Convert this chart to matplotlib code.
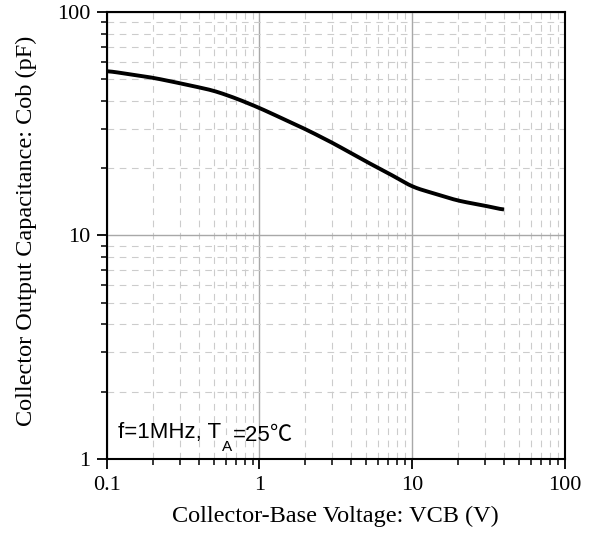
import matplotlib
matplotlib.use("Agg")
import matplotlib.pyplot as plt
import numpy as np
from matplotlib.ticker import LogLocator, NullFormatter, FixedLocator, FixedFormatter

# Cob vs VCB
vcb = [0.1, 0.2, 0.3, 0.5, 0.7, 1, 2, 3, 5, 7, 10, 20, 30, 40]
cob = [54.5, 50.8, 48.0, 44.5, 41.1, 37.2, 29.9, 26.0, 21.4, 19.0, 16.5, 14.3, 13.6, 13.0]

xticks = [0.1, 1, 10, 100]
xlabels = ["0.1", "1", "10", "100"]
yticks = [1, 10, 100]
ylabels = ["1", "10", "100"]

plt.rcParams['font.family'] = ['Liberation Serif', 'DejaVu Serif']

fig = plt.figure(figsize=(5.97, 5.42), dpi=100)
ax = fig.add_axes([0.179, 0.153, 0.767, 0.825])

# smooth the curve in log space
lx = np.log10(vcb)
ly = np.log10(cob)
xs = np.linspace(lx[0], lx[-1], 300)
ys = np.interp(xs, lx, ly)
k = np.ones(15) / 15
ys_s = np.convolve(np.pad(ys, 7, mode='edge'), k, mode='valid')
ax.plot(10**xs, 10**ys_s, color='black', lw=2.8, solid_capstyle='butt')

ax.set_xscale('log')
ax.set_yscale('log')
ax.set_xlim(0.1, 100)
ax.set_ylim(1, 100)

ax.xaxis.set_major_locator(FixedLocator(xticks))
ax.xaxis.set_major_formatter(FixedFormatter(xlabels))
ax.yaxis.set_major_locator(FixedLocator(yticks))
ax.yaxis.set_major_formatter(FixedFormatter(ylabels))
ax.xaxis.set_minor_locator(LogLocator(base=10, subs=np.arange(2, 10)))
ax.yaxis.set_minor_locator(LogLocator(base=10, subs=np.arange(2, 10)))
ax.xaxis.set_minor_formatter(NullFormatter())
ax.yaxis.set_minor_formatter(NullFormatter())

ax.grid(which='major', color='#a8a8a8', lw=1.0, ls='-')
ax.grid(which='minor', color='#cccccc', lw=0.8, ls=(0, (6, 5)))
ax.set_axisbelow(True)

for s in ax.spines.values():
    s.set_linewidth(1.5)
ax.tick_params(which='major', direction='out', length=7, width=1.3, labelsize=16, pad=5)
ax.tick_params(which='minor', direction='out', length=4, width=1.1)

ax.set_xlabel("Collector-Base Voltage: VCB (V)", fontsize=17.5, labelpad=8)
ax.set_ylabel("Collector Output Capacitance: Cob (pF)", fontsize=17.5)
ax.yaxis.set_label_coords(-0.152, 0.51)

# condition note, built from pieces so the subscript and degree sign keep their fonts
sans = ['Liberation Sans', 'DejaVu Sans']
t1 = ax.text(0.024, 0.047, "f=1MHz, T", transform=ax.transAxes,
             fontsize=16, family=sans, ha='left', va='baseline')
t2 = ax.annotate("A", xy=(1, 0), xycoords=t1, xytext=(0.5, -6), textcoords='offset points',
                 fontsize=11, family=sans, ha='left', va='baseline')
t3 = ax.annotate("=25", xy=(1, 0), xycoords=t2, xytext=(0.5, 6), textcoords='offset points',
                 fontsize=16, family=sans, ha='left', va='bottom')
ax.annotate("℃", xy=(1, 0), xycoords=t3, xytext=(0, 0), textcoords='offset points',
            fontsize=16, family=['Noto Sans CJK SC', 'DejaVu Sans'], ha='left', va='bottom')

fig.savefig("out.png", dpi=100)
